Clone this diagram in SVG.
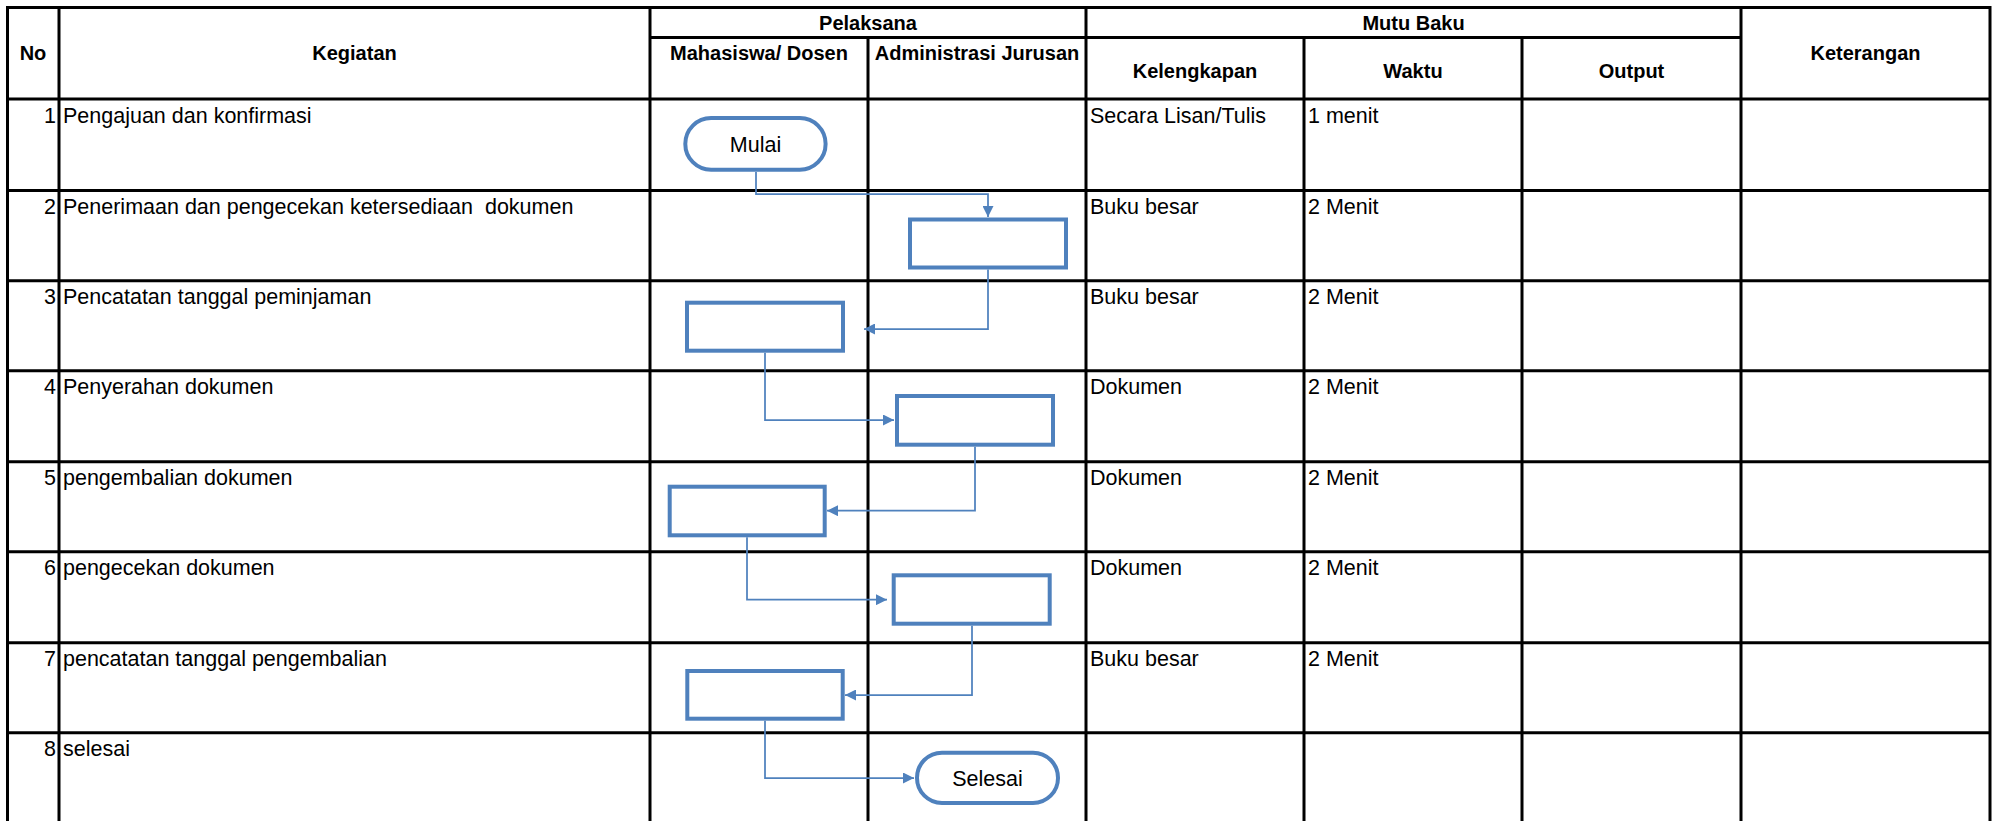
<svg xmlns="http://www.w3.org/2000/svg" width="2000" height="821" viewBox="0 0 2000 821">
<style>
.grid line{stroke:#000;stroke-width:3}
.t{font-family:"Liberation Sans",Arial,sans-serif;font-size:21.5px;fill:#000}
.h{font-family:"Liberation Sans",Arial,sans-serif;font-size:20px;font-weight:bold;fill:#000;text-anchor:middle}
.n{text-anchor:end}
.c{text-anchor:middle}
.box{fill:#fff;stroke:#4F81BD;stroke-width:4}
.conn path{fill:none;stroke:#4F81BD;stroke-width:1.75}
</style>
<defs>
<marker id="arr" viewBox="0 0 10 10" refX="10" refY="5" markerWidth="11" markerHeight="11" markerUnits="userSpaceOnUse" orient="auto">
<path d="M0,0 L10,5 L0,10 z" fill="#4F81BD"/>
</marker>
</defs>
<rect width="2000" height="821" fill="#fff"/>
<g id="table" class="grid">
<line x1="6" y1="7.5" x2="1991" y2="7.5"/>
<line x1="650" y1="37.5" x2="1741" y2="37.5"/>
<line x1="6" y1="99" x2="1991" y2="99"/>
<line x1="6" y1="190.5" x2="1991" y2="190.5"/>
<line x1="6" y1="280.7" x2="1991" y2="280.7"/>
<line x1="6" y1="370.7" x2="1991" y2="370.7"/>
<line x1="6" y1="461.7" x2="1991" y2="461.7"/>
<line x1="6" y1="551.7" x2="1991" y2="551.7"/>
<line x1="6" y1="642.7" x2="1991" y2="642.7"/>
<line x1="6" y1="732.7" x2="1991" y2="732.7"/>
<line x1="7.5" y1="6" x2="7.5" y2="830"/>
<line x1="59" y1="6" x2="59" y2="830"/>
<line x1="650" y1="6" x2="650" y2="830"/>
<line x1="868" y1="37.5" x2="868" y2="830"/>
<line x1="1086" y1="6" x2="1086" y2="830"/>
<line x1="1304" y1="37.5" x2="1304" y2="830"/>
<line x1="1522" y1="37.5" x2="1522" y2="830"/>
<line x1="1741" y1="6" x2="1741" y2="830"/>
<line x1="1990" y1="6" x2="1990" y2="830"/>
</g>
<g id="header">
<text class="h" x="33" y="60">No</text>
<text class="h" x="354.5" y="60">Kegiatan</text>
<text class="h" x="868" y="30">Pelaksana</text>
<text class="h" x="1413.5" y="30">Mutu Baku</text>
<text class="h" x="759" y="60">Mahasiswa/ Dosen</text>
<text class="h" x="977" y="60">Administrasi Jurusan</text>
<text class="h" x="1195" y="78">Kelengkapan</text>
<text class="h" x="1413" y="78">Waktu</text>
<text class="h" x="1631.5" y="78">Output</text>
<text class="h" x="1865.5" y="60">Keterangan</text>
</g>
<g id="rows">
<text class="t n" x="56" y="123">1</text><text class="t" x="63" y="123">Pengajuan dan konfirmasi</text>
<text class="t" x="1090" y="123">Secara Lisan/Tulis</text><text class="t" x="1308" y="123">1 menit</text>
<text class="t n" x="56" y="213.5">2</text><text class="t" x="63" y="213.5" style="white-space:pre">Penerimaan dan pengecekan ketersediaan  dokumen</text>
<text class="t" x="1090" y="213.5">Buku besar</text><text class="t" x="1308" y="213.5">2 Menit</text>
<text class="t n" x="56" y="303.7">3</text><text class="t" x="63" y="303.7">Pencatatan tanggal peminjaman</text>
<text class="t" x="1090" y="303.7">Buku besar</text><text class="t" x="1308" y="303.7">2 Menit</text>
<text class="t n" x="56" y="393.7">4</text><text class="t" x="63" y="393.7">Penyerahan dokumen</text>
<text class="t" x="1090" y="393.7">Dokumen</text><text class="t" x="1308" y="393.7">2 Menit</text>
<text class="t n" x="56" y="484.7">5</text><text class="t" x="63" y="484.7">pengembalian dokumen</text>
<text class="t" x="1090" y="484.7">Dokumen</text><text class="t" x="1308" y="484.7">2 Menit</text>
<text class="t n" x="56" y="574.7">6</text><text class="t" x="63" y="574.7">pengecekan dokumen</text>
<text class="t" x="1090" y="574.7">Dokumen</text><text class="t" x="1308" y="574.7">2 Menit</text>
<text class="t n" x="56" y="665.7">7</text><text class="t" x="63" y="665.7">pencatatan tanggal pengembalian</text>
<text class="t" x="1090" y="665.7">Buku besar</text><text class="t" x="1308" y="665.7">2 Menit</text>
<text class="t n" x="56" y="755.7">8</text><text class="t" x="63" y="755.7">selesai</text>
</g>
<g id="connectors" class="conn">
<path d="M756 172 V194 H988 V217" marker-end="url(#arr)"/>
<path d="M988 269.5 V329 H864" marker-end="url(#arr)"/>
<path d="M765 352.7 V420 H894" marker-end="url(#arr)"/>
<path d="M975 446.7 V510.7 H827" marker-end="url(#arr)"/>
<path d="M747 537.3 V599.7 H887" marker-end="url(#arr)"/>
<path d="M972 625.7 V695 H845" marker-end="url(#arr)"/>
<path d="M765 720.7 V778 H914" marker-end="url(#arr)"/>
</g>
<g id="mulai">
<rect class="box" x="685.3" y="118" width="140.3" height="51.7" rx="25.8"/>
<text class="t c" x="755.5" y="151.5">Mulai</text>
</g>
<g id="step2"><rect class="box" x="910" y="219.5" width="156" height="48"/></g>
<g id="step3"><rect class="box" x="687" y="302.7" width="156" height="48"/></g>
<g id="step4"><rect class="box" x="897" y="396" width="156" height="48.7"/></g>
<g id="step5"><rect class="box" x="669.7" y="486.7" width="155" height="48.6"/></g>
<g id="step6"><rect class="box" x="893.7" y="575.3" width="156" height="48.4"/></g>
<g id="step7"><rect class="box" x="687.3" y="671" width="155.4" height="47.7"/></g>
<g id="selesai">
<rect class="box" x="917" y="752.7" width="141" height="50.3" rx="25"/>
<text class="t c" x="987.5" y="785.5">Selesai</text>
</g>
</svg>
